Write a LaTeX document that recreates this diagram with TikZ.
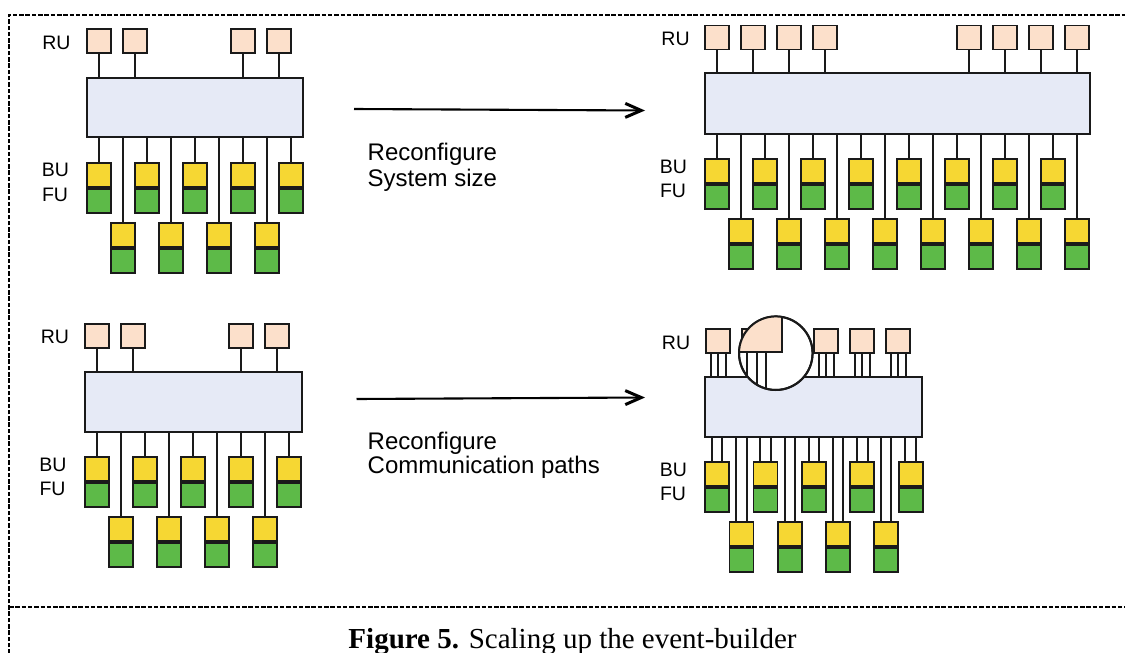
\documentclass[tikz,border=0pt]{standalone}
\usepackage{fontspec}
\setmainfont{Liberation Serif}
\newfontfamily\labelfont{Liberation Sans}
\usetikzlibrary{arrows.meta}

\definecolor{rucol}{HTML}{FCE0CB}
\definecolor{swcol}{HTML}{E6EAF6}
\definecolor{bucol}{HTML}{F6D733}
\definecolor{fucol}{HTML}{5DBA48}
\definecolor{edge}{HTML}{1A1A1A}

\tikzset{
  unit/.style={draw=edge, line width=1.9pt, inner sep=0pt, minimum width=24pt, minimum height=24pt},
  rubox/.style={unit, fill=rucol},
  bubox/.style={unit, fill=bucol, anchor=north},
  fubox/.style={unit, fill=fucol, anchor=north},
  switchbox/.style={draw=edge, line width=1.9pt, fill=swcol, inner sep=0pt},
  wire/.style={draw=edge, line width=2pt},
  lbl/.style={font=\labelfont\fontsize{19.5}{22}\selectfont, inner sep=0pt},
  note/.style={font=\labelfont\fontsize{24}{26}\selectfont, inner sep=0pt, anchor=base west},
  frame/.style={line width=1.4pt, dash pattern=on 4.5pt off 1.8pt},
  flow/.style={line width=2.1pt, -{Straight Barb[length=16pt,width=14pt,line width=3pt]}},
  lensbox/.style={circle, draw=edge, line width=2pt, fill=white, minimum size=73.5pt, inner sep=0pt}
}

\begin{document}
\begin{tikzpicture}[x=1pt, y=-1pt]
\useasboundingbox (0,0) rectangle (1125,653);

% dashed frame and caption separator
\draw[frame] (9,660) -- (9,15) -- (1130,15);
\draw[frame] (9,607) -- (1130,607);

% ---------- upper left: small builder ----------
\node[lbl] (tlru) at (56.5,42.5) {RU};
\node[lbl] (tlbu) at (55.5,170) {BU};
\node[lbl] (tlfu) at (55,194.5) {FU};
\node[switchbox, minimum width=216pt, minimum height=59pt] (tlsw) at (195,107.5) {};
\foreach \x [count=\i] in {99,135,243,279} {
  \node[rubox] (tlr\i) at (\x,41) {};
  \draw[wire] (tlr\i.south) -- (tlr\i.south |- tlsw.north);
}
\foreach \x [count=\i] in {99,147,195,243,291} {
  \node[bubox] (tlb\i) at (\x,162) {};
  \node[fubox] (tlf\i) at (tlb\i.south) {};
  \draw[wire] (tlb\i.north |- tlsw.south) -- (tlb\i.north);
}
\foreach \x [count=\i] in {123,171,219,267} {
  \node[bubox] (tlc\i) at (\x,222) {};
  \node[fubox] (tlg\i) at (tlc\i.south) {};
  \draw[wire] (tlc\i.north |- tlsw.south) -- (tlc\i.north);
}

% ---------- upper right: enlarged builder ----------
\node[lbl] (trru) at (675.5,39) {RU};
\node[lbl] (trbu) at (673.3,166.7) {BU};
\node[lbl] (trfu) at (673,190.5) {FU};
\node[switchbox, minimum width=384.4pt, minimum height=61pt] (trsw) at (897.5,103.5) {};
\foreach \x [count=\i] in {717,753,789,825,969,1005,1041,1077} {
  \node[rubox] (trr\i) at (\x,37.5) {};
  \draw[wire] (trr\i.south) -- (trr\i.south |- trsw.north);
}
\foreach \k in {0,...,7} {
  \node[bubox] (trb\k) at (717+48*\k,157.7) {};
  \node[fubox] (trf\k) at (trb\k.south) {};
  \draw[wire] (trb\k.north |- trsw.south) -- (trb\k.north);
  \node[bubox] (trc\k) at (741+48*\k,217.7) {};
  \node[fubox] (trg\k) at (trc\k.south) {};
  \draw[wire] (trc\k.north |- trsw.south) -- (trc\k.north);
}

% ---------- lower left: small builder ----------
\node[lbl] (blru) at (55,337) {RU};
\node[lbl] (blbu) at (53,465.3) {BU};
\node[lbl] (blfu) at (52.5,488.8) {FU};
\node[switchbox, minimum width=216.7pt, minimum height=60.6pt] (blsw) at (193.35,402) {};
\foreach \x [count=\i] in {97,133,241,277} {
  \node[rubox] (blr\i) at (\x,336) {};
  \draw[wire] (blr\i.south) -- (blr\i.south |- blsw.north);
}
\foreach \x [count=\i] in {97,145,193,241,289} {
  \node[bubox] (blb\i) at (\x,456) {};
  \node[fubox] (blf\i) at (blb\i.south) {};
  \draw[wire] (blb\i.north |- blsw.south) -- (blb\i.north);
}
\foreach \x [count=\i] in {121,169,217,265} {
  \node[bubox] (blc\i) at (\x,516) {};
  \node[fubox] (blg\i) at (blc\i.south) {};
  \draw[wire] (blc\i.north |- blsw.south) -- (blc\i.north);
}

% ---------- lower right: multiplied paths ----------
\node[lbl] (brru) at (676,343.3) {RU};
\node[lbl] (brbu) at (673.3,470) {BU};
\node[lbl] (brfu) at (673,493.7) {FU};
\node[switchbox, minimum width=216.4pt, minimum height=60pt] (brsw) at (813.5,407.3) {};
\foreach \x [count=\i] in {718,754,790,826,862,898} {
  \node[rubox] (brr\i) at (\x,341) {};
  \foreach \d in {-7.5,0,7.5}
    \draw[wire] ([xshift=\d pt]brr\i.south) -- ([xshift=\d pt]brr\i.south |- brsw.north);
}
\foreach \x [count=\i] in {717,765.5,814,862.3,910.6} {
  \node[bubox] (brb\i) at (\x,461) {};
  \node[fubox] (brf\i) at (brb\i.south) {};
  \foreach \d in {-5.2,5.2}
    \draw[wire] ([xshift=\d pt]brb\i.north |- brsw.south) -- ([xshift=\d pt]brb\i.north);
}
\foreach \x [count=\i] in {741.5,789.8,838,886} {
  \node[bubox] (brc\i) at (\x,521) {};
  \node[fubox] (brg\i) at (brc\i.south) {};
  \foreach \d in {-5.2,5.2}
    \draw[wire] ([xshift=\d pt]brc\i.north |- brsw.south) -- ([xshift=\d pt]brc\i.north);
}

% magnifying lens over the readout links
\node[lensbox] (lens) at (775.8,353.2) {};
\begin{scope}
  \clip (lens.center) circle (36.8pt);
  \fill[rucol] (700,290) rectangle (781.7,352.3);
  \draw[edge, line width=2pt] (781.7,290) -- (781.7,352.3) -- (700,352.3);
  \foreach \x in {747.3,756.7,766}
    \draw[wire] (\x,352.3) -- (\x,400);
\end{scope}
\draw[edge, line width=2pt] (lens.center) circle (36.8pt);

% ---------- transitions ----------
\coordinate (a1s) at (354,109);
\coordinate (a1e) at (645,110.5);
\draw[flow] (a1s) -- (a1e);
\node[note] (n1a) at (367.5,160.5) {Reconfigure};
\node[note] (n1b) at (367.5,186) {System size};

\coordinate (a2s) at (356.5,399);
\coordinate (a2e) at (645,397.5);
\draw[flow] (a2s) -- (a2e);
\node[note] (n2a) at (367.5,449) {Reconfigure};
\node[note] (n2b) at (367.5,473.5) {Communication paths};

% ---------- caption ----------
\node[font=\fontsize{29}{34}\selectfont, anchor=base, inner sep=0pt] (cap) at (572.5,648)
  {\textbf{Figure 5.} Scaling up the event-builder};
\end{tikzpicture}
\end{document}
